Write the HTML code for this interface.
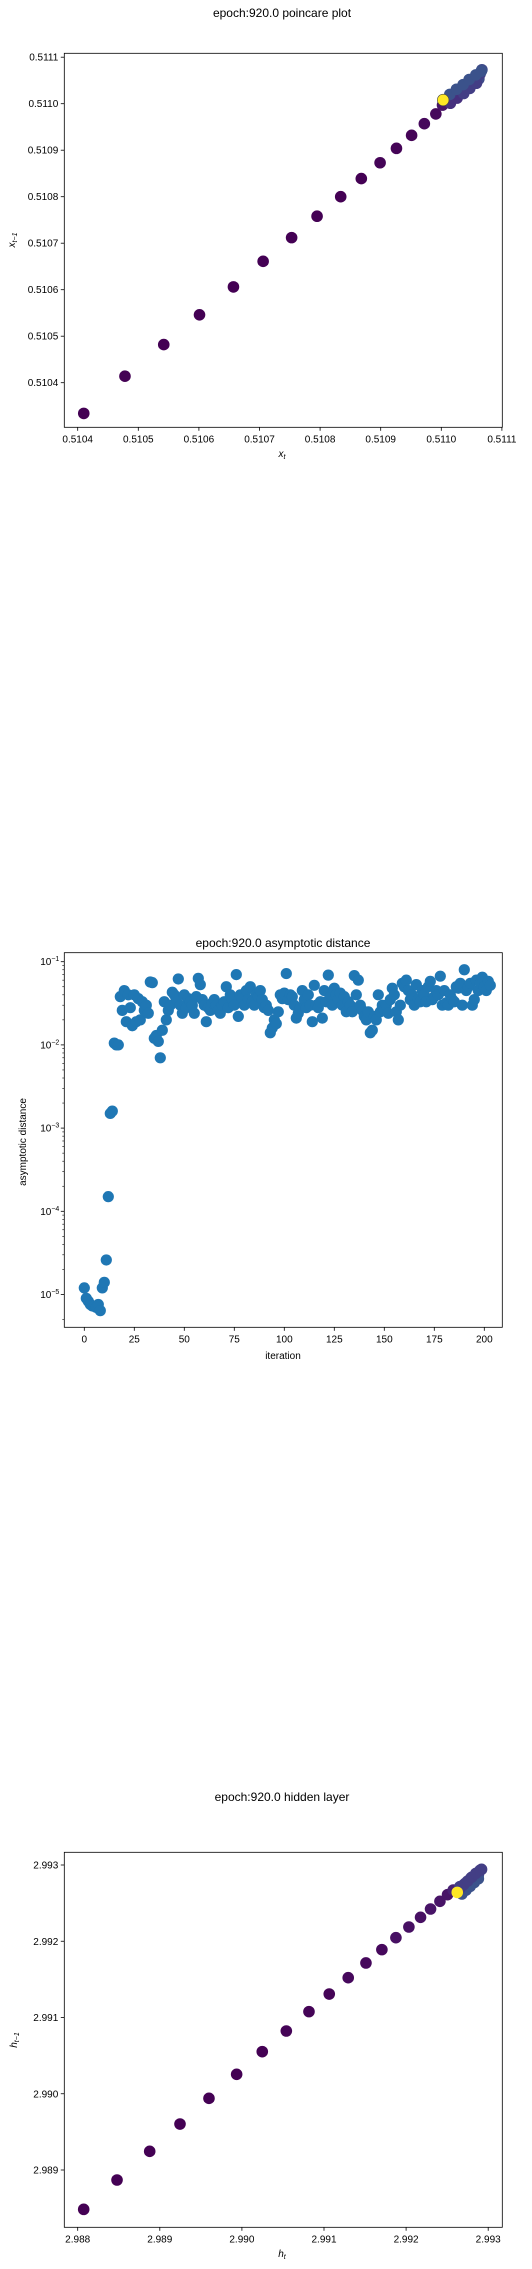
<!DOCTYPE html>
<html><head><meta charset="utf-8"><style>
html,body{margin:0;padding:0;background:#fff;}
svg{display:block;font-family:"Liberation Sans","DejaVu Sans",sans-serif;}
</style></head><body>
<svg id="c" width="532" height="2269" viewBox="0 0 532 2269"></svg>
<script>
// ---------- Chart 1: poincare plot ----------
const p1X = [0.510410,0.510478,0.510542,0.510601,0.510657,0.510706,0.510753,0.510795,0.510834,0.510868,0.510899,0.510926,0.510951,0.510972,0.510991,0.511002,0.511009,0.511021,0.511020,0.511031,0.511034,0.511042,0.511048,0.511053,0.511062,0.511064,0.511067,0.511015,0.511026,0.511037,0.511047,0.511058,0.511014,0.511025,0.511036,0.511046,0.511057,0.511066,0.511003];
const p1Y = [0.510334,0.510414,0.510482,0.510546,0.510606,0.510661,0.510712,0.510758,0.510800,0.510839,0.510873,0.510904,0.510932,0.510957,0.510978,0.510997,0.511008,0.511012,0.511019,0.511030,0.511024,0.511040,0.511038,0.511051,0.511053,0.511064,0.511073,0.511001,0.511012,0.511022,0.511033,0.511044,0.511020,0.511031,0.511041,0.511052,0.511062,0.511070,0.511008];
const p1C = ["#440154","#440154","#440154","#440154","#440154","#440154","#440154","#440154","#440154","#440154","#450457","#450457","#450457","#46085c","#46085c","#481467","#3e4a89","#433e85","#3e4a89","#433e85","#3e4a89","#433e85","#3e4a89","#433e85","#3e4a89","#433e85","#3e4a89","#46307e","#46307e","#433e85","#433e85","#433e85","#3b528b","#3b528b","#3b528b","#3b528b","#3b528b","#3b528b","#fde725"];
const p1XTicks = ["0.5104","0.5105","0.5106","0.5107","0.5108","0.5109","0.5110","0.5111"];
const p1YTicks = ["0.5104","0.5105","0.5106","0.5107","0.5108","0.5109","0.5110","0.5111"];

// ---------- Chart 2: asymptotic distance ----------
const adVals = [1.2e-5,9e-6,8.3e-6,7.6e-6,7.3e-6,7.2e-6,7.0e-6,7.6e-6,6.4e-6,1.2e-5,1.4e-5,2.6e-5,1.5e-4,1.5e-3,1.6e-3,1.05e-2,1.0e-2,1.0e-2,0.038,0.026,0.045,0.019,0.040,0.028,0.017,0.040,0.019,0.036,0.020,0.033,0.026,0.030,0.024,0.057,0.056,0.012,0.013,0.011,0.007,0.015,0.033,0.020,0.026,0.030,0.043,0.040,0.035,0.062,0.030,0.024,0.040,0.028,0.036,0.033,0.030,0.024,0.038,0.063,0.053,0.035,0.030,0.019,0.028,0.026,0.032,0.035,0.030,0.026,0.024,0.030,0.033,0.050,0.028,0.040,0.035,0.030,0.070,0.022,0.040,0.036,0.030,0.045,0.035,0.050,0.033,0.030,0.040,0.038,0.045,0.035,0.028,0.030,0.026,0.014,0.016,0.020,0.018,0.025,0.040,0.036,0.042,0.072,0.035,0.040,0.038,0.030,0.021,0.024,0.028,0.045,0.035,0.028,0.040,0.030,0.019,0.052,0.030,0.028,0.033,0.021,0.045,0.033,0.069,0.038,0.030,0.048,0.040,0.035,0.042,0.030,0.038,0.025,0.033,0.030,0.025,0.068,0.040,0.060,0.030,0.026,0.022,0.020,0.025,0.014,0.015,0.022,0.020,0.040,0.025,0.030,0.026,0.030,0.024,0.035,0.048,0.040,0.025,0.020,0.030,0.055,0.050,0.060,0.045,0.035,0.040,0.030,0.053,0.035,0.033,0.045,0.040,0.033,0.050,0.058,0.035,0.038,0.045,0.040,0.067,0.030,0.045,0.032,0.030,0.040,0.035,0.033,0.050,0.048,0.055,0.030,0.080,0.045,0.050,0.055,0.030,0.035,0.060,0.045,0.055,0.065,0.050,0.045,0.058,0.052];
const adXTicks = [0,25,50,75,100,125,150,175,200];
const adYExps = [-1,-2,-3,-4,-5];

// ---------- Chart 3: hidden layer ----------
const h3X = [2.988073,2.988479,2.988877,2.989246,2.989599,2.989936,2.990248,2.990541,2.990817,2.991064,2.991295,2.991511,2.991705,2.991876,2.992034,2.992176,2.992298,2.992412,2.992505,2.992574,2.992655,2.992700,2.992720,2.992760,2.992790,2.992820,2.992850,2.992880,2.992919,2.992680,2.992730,2.992780,2.992830,2.992880,2.992660,2.992700,2.992750,2.992800,2.992850,2.992900,2.992623];
const h3Y = [2.988484,2.988869,2.989245,2.989603,2.989940,2.990255,2.990552,2.990823,2.991077,2.991308,2.991522,2.991715,2.991890,2.992047,2.992187,2.992314,2.992423,2.992524,2.992611,2.992672,2.992716,2.992700,2.992760,2.992750,2.992830,2.992810,2.992880,2.992870,2.992943,2.992620,2.992670,2.992720,2.992770,2.992820,2.992700,2.992740,2.992790,2.992840,2.992890,2.992930,2.992641];
const h3C = ["#440154","#440154","#440154","#440154","#440154","#440154","#440154","#450457","#450457","#450457","#46085c","#46085c","#46085c","#471063","#471063","#471063","#481467","#481467","#481467","#482173","#433e85","#3e4a89","#433e85","#3e4a89","#433e85","#3e4a89","#433e85","#3e4a89","#433e85","#3b528b","#3b528b","#3b528b","#3b528b","#3b528b","#433e85","#433e85","#433e85","#433e85","#433e85","#433e85","#fde725"];
const h3XTicks = ["2.988","2.989","2.990","2.991","2.992","2.993"];
const h3YTicks = ["2.989","2.990","2.991","2.992","2.993"];

const NS="http://www.w3.org/2000/svg";
const svg=document.getElementById('c');
function mk(tag,attrs,parent){const e=document.createElementNS(NS,tag);for(const k in attrs)e.setAttribute(k,attrs[k]);(parent||svg).appendChild(e);return e;}
function txt(s,attrs,parent){const e=mk('text',attrs,parent);e.textContent=s;return e;}
function frame(g,L,T,R,B){const r=mk('rect',{x:L,y:T,width:R-L,height:B-T,fill:'none',stroke:'#000','stroke-width':0.8},g);}

// Chart 1
(function(){
  const g=mk('g',{});
  
  
  const L=64.3,T=53.3,R=502.3,B=427.3;
  const sx=v=>77.7+(v-0.5104)/0.0001*60.6;
  const sy=v=>382.7-(v-0.5104)/0.0001*46.5;
  const t=txt('epoch:920.0 poincare plot',{x:282,y:17,'font-size':12,'text-anchor':'middle',fill:'#000'},g);
  
  p1XTicks.forEach(s=>{const x=sx(parseFloat(s));mk('line',{x1:x,x2:x,y1:B,y2:B+3.5,stroke:'#000','stroke-width':0.8},g);
    const e=txt(s,{x:x,y:B+15,'font-size':10,'text-anchor':'middle'},g);});
  p1YTicks.forEach(s=>{const y=sy(parseFloat(s));mk('line',{x1:L-3.5,x2:L,y1:y,y2:y,stroke:'#000','stroke-width':0.8},g);
    const e=txt(s,{x:L-6,y:y+3.5,'font-size':10,'text-anchor':'end'},g);});
  p1X.forEach((v,i)=>{const c=mk('circle',{cx:sx(v),cy:sy(p1Y[i]),r:5.8,fill:p1C[i]},g);
    if(i===p1X.length-1){c.setAttribute('stroke','#444');c.setAttribute('stroke-width',0.6);}
    });
  frame(g,L,T,R,B);
  const xl=txt('x',{x:282,y:457,'font-size':10,'font-style':'italic','text-anchor':'middle'},g);
  mk('tspan',{dy:2,'font-size':7},xl).textContent='t';
  
  const yl=txt('x',{x:0,y:0,'font-size':10,'font-style':'italic',transform:'translate(15,240) rotate(-90)','text-anchor':'middle'},g);
  mk('tspan',{dy:2,'font-size':7},yl).textContent='t−1';
  
})();

// Chart 2
(function(){
  const g=mk('g',{});
  
  
  const L=64.3,T=952.7,R=502.3,B=1327.3;
  const sx=v=>84.3+v*2;
  const sy=v=>961.7-(Math.log10(v)+1)*83.2;
  const t=txt('epoch:920.0 asymptotic distance',{x:283,y:947,'font-size':12,'text-anchor':'middle'},g);
  
  adXTicks.forEach(v=>{const x=sx(v);mk('line',{x1:x,x2:x,y1:B,y2:B+3.5,stroke:'#000','stroke-width':0.8},g);
    const e=txt(String(v),{x:x,y:B+15,'font-size':10,'text-anchor':'middle'},g);});
  adYExps.forEach(p=>{const y=sy(Math.pow(10,p));mk('line',{x1:L-3.5,x2:L,y1:y,y2:y,stroke:'#000','stroke-width':0.8},g);
    for(let k=2;k<10;k++){const yy=sy(k*Math.pow(10,p));if(yy>T&&yy<B)mk('line',{x1:L-2,x2:L,y1:yy,y2:yy,stroke:'#000','stroke-width':0.6},g);}
    const e=txt('10',{x:L-5,y:y+3.5,'font-size':10,'text-anchor':'end'},g);
    const s=mk('tspan',{dy:-4,'font-size':7},e);s.textContent='−'+(-p);
    });
  const y6=sy(5e-6);mk('line',{x1:L-2,x2:L,y1:y6,y2:y6,stroke:'#000','stroke-width':0.6},g);
  adVals.forEach((v,i)=>{const c=mk('circle',{cx:sx(i),cy:sy(v),r:5.6,fill:'#1f77b4'},g);
    });
  frame(g,L,T,R,B);
  const xl=txt('iteration',{x:283,y:1359,'font-size':10,'text-anchor':'middle'},g);
  
  const yl=txt('asymptotic distance',{x:0,y:0,'font-size':10,transform:'translate(26,1142) rotate(-90)','text-anchor':'middle'},g);
  
})();

// Chart 3
(function(){
  const g=mk('g',{});
  
  
  const L=64.3,T=1852.3,R=502.3,B=2227.3;
  const sx=v=>77.7+(v-2.988)/0.001*82.1;
  const sy=v=>2170-(v-2.989)/0.001*76.25;
  const t=txt('epoch:920.0 hidden layer',{x:282,y:1801,'font-size':12,'text-anchor':'middle'},g);
  
  h3XTicks.forEach(s=>{const x=sx(parseFloat(s));mk('line',{x1:x,x2:x,y1:B,y2:B+3.5,stroke:'#000','stroke-width':0.8},g);
    const e=txt(s,{x:x,y:B+15,'font-size':10,'text-anchor':'middle'},g);});
  h3YTicks.forEach(s=>{const y=sy(parseFloat(s));mk('line',{x1:L-3.5,x2:L,y1:y,y2:y,stroke:'#000','stroke-width':0.8},g);
    const e=txt(s,{x:L-6,y:y+3.5,'font-size':10,'text-anchor':'end'},g);});
  h3X.forEach((v,i)=>{const c=mk('circle',{cx:sx(v),cy:sy(h3Y[i]),r:5.8,fill:h3C[i]},g);
    });
  frame(g,L,T,R,B);
  const xl=txt('h',{x:282,y:2257,'font-size':10,'font-style':'italic','text-anchor':'middle'},g);
  mk('tspan',{dy:2,'font-size':7},xl).textContent='t';
  
  const yl=txt('h',{x:0,y:0,'font-size':10,'font-style':'italic',transform:'translate(17,2040) rotate(-90)','text-anchor':'middle'},g);
  mk('tspan',{dy:2,'font-size':7},yl).textContent='t−1';
  
})();
</script>
</body></html>
